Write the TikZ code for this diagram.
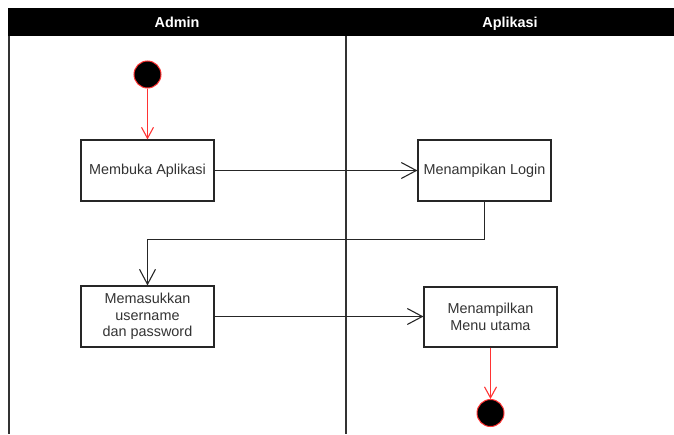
\documentclass[tikz,border=0pt]{standalone}
\usepackage{fontspec}
\setmainfont{Liberation Sans}
\usetikzlibrary{arrows.meta}
\definecolor{txt}{HTML}{333333}
\definecolor{flowred}{HTML}{FF3333}
\tikzset{
  action/.style={draw=black!85, line width=1.1pt, fill=white, minimum width=133pt,
    minimum height=61pt, inner sep=2pt, align=center, text=txt,
    font=\fontsize{14.4}{16.5}\selectfont},
  terminal/.style={circle, fill=black, draw=flowred, line width=1pt, minimum size=27pt, inner sep=0pt},
  flow/.style={draw=black!85, line width=1.1pt, -{Straight Barb[length=15pt,width=16pt,line width=1.1pt]}},
  redflow/.style={draw=flowred, line width=1.1pt, -{Straight Barb[length=11pt,width=12pt,line width=1.1pt]}},
  lane/.style={draw=black!80, line width=1.6pt},
  lanetitle/.style={text=white, anchor=base, inner sep=0pt, font=\bfseries\fontsize{14.4}{16}\selectfont}
}
\begin{document}
\begin{tikzpicture}[x=1pt,y=-1pt]
  \useasboundingbox (0,0) rectangle (674,434);
  % swimlane header and separators
  \fill[black] (8,8) rectangle (674,36);
  \node[lanetitle] (hadmin) at (177,27.5) {Admin};
  \node[lanetitle] (happ) at (510,27.5) {Aplikasi};
  \draw[lane] (9,36) -- (9,434);
  \draw[lane] (346,36) -- (346,434);
  % activity nodes
  \node[terminal] (start) at (147.5,74.5) {};
  \node[action] (buka) at (147.5,170.5) {Membuka Aplikasi};
  \node[action] (login) at (484.5,170.5) {Menampikan Login};
  \node[action] (masuk) at (147.5,316.5) {Memasukkan\\username\\dan password};
  \node[action, minimum height=60pt] (menu) at (490.5,317) {Menampilkan\\Menu utama};
  \node[terminal] (end) at (490.5,413) {};
  % transitions
  \draw[redflow] (start) -- (buka);
  \draw[flow] (buka) -- (login);
  \draw[flow] (login.south) -- ++(0,38) -| (masuk.north);
  \draw[flow] (masuk) -- (menu.west |- masuk.east);
  \draw[redflow] (menu) -- (end);
\end{tikzpicture}
\end{document}
